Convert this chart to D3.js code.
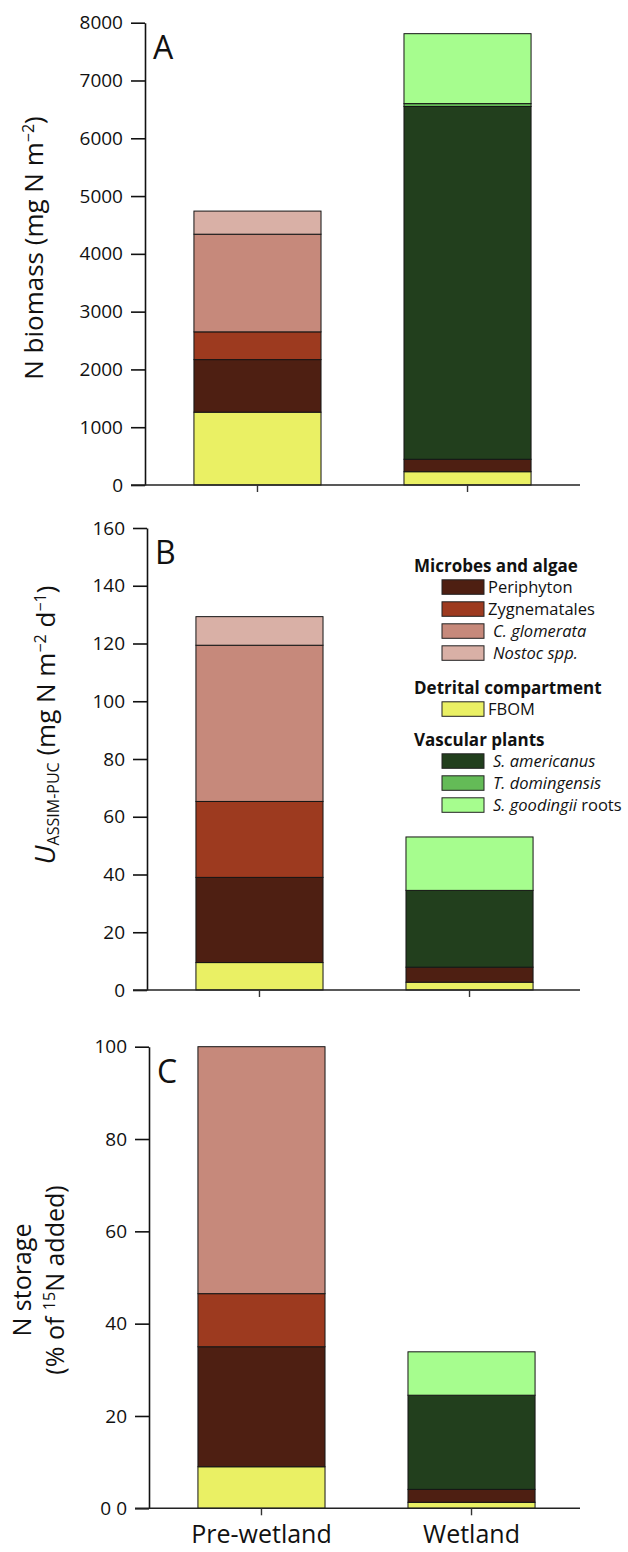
<!DOCTYPE html>
<html>
<head>
<meta charset="utf-8">
<script src="https://cdn.jsdelivr.net/npm/d3@7"></script>
<style>
  body { margin: 0; background: #fff; }
  svg { display: block; font-family: "Open Sans", sans-serif; }
</style>
</head>
<body>
<div id="chart"></div>
<script>
// Data
const categories = ['Pre-wetland', 'Wetland']
const seriesKeys = ['FBOM', 'Periphyton', 'Zygnematales', 'C. glomerata', 'Nostoc spp.',
  'S. americanus', 'T. domingensis', 'S. goodingii roots']
const seriesColors = ['#eaf064', '#4e1f12', '#9d3a1f', '#c6897b', '#d9b0a6',
  '#223f1d', '#64bb57', '#a6fd8e']
// Panel A: N biomass (mg N m-2)
const biomassPre = [1260, 910, 480, 1690, 400, 0, 0, 0]
const biomassWet = [230, 215, 0, 0, 0, 6105, 50, 1210]
const biomassTicks = [0, 1000, 2000, 3000, 4000, 5000, 6000, 7000, 8000]
// Panel B: U ASSIM-PUC (mg N m-2 d-1)
const uptakePre = [9.5, 29.5, 26.3, 54.1, 9.9, 0, 0, 0]
const uptakeWet = [2.7, 5.2, 0, 0, 0, 26.6, 0, 18.5]
const uptakeTicks = [0, 20, 40, 60, 80, 100, 120, 140, 160]
// Panel C: N storage (% of 15N added)
const storagePre = [9.0, 26.0, 11.5, 53.5, 0, 0, 0, 0]
const storageWet = [1.3, 2.8, 0, 0, 0, 20.4, 0, 9.4]
const storageTicks = [0, 20, 40, 60, 80, 100]
// Legend groups
const legendGroups = [
  { title: 'Microbes and algae', items: [1, 2, 3, 4] },
  { title: 'Detrital compartment', items: [0] },
  { title: 'Vascular plants', items: [5, 6, 7] }
]
const italicKeys = ['C. glomerata', 'Nostoc spp.', 'S. americanus', 'T. domingensis']

const W = 628, H = 1552
const svg = d3.select('#chart').append('svg').attr('width', W).attr('height', H)
const color = d3.scaleOrdinal().domain(seriesKeys).range(seriesColors)

const panels = [
  { letter: 'A', pre: biomassPre, wet: biomassWet, ticks: biomassTicks, top: 22.7, bottom: 485, axisX: 145, fmt: d => d },
  { letter: 'B', pre: uptakePre, wet: uptakeWet, ticks: uptakeTicks, top: 528, bottom: 990, axisX: 147, fmt: d => d },
  { letter: 'C', pre: storagePre, wet: storageWet, ticks: storageTicks, top: 1046.7, bottom: 1508.3, axisX: 149, fmt: d => d === 0 ? '0 0' : d }
]

panels.forEach((p, pi) => {
  const g = svg.append('g')
  const rows = [p.pre, p.wet].map((vals, i) => {
    const row = { cat: categories[i] }
    seriesKeys.forEach((k, j) => row[k] = vals[j])
    return row
  })
  const stacked = d3.stack().keys(seriesKeys)(rows)
  const maxTick = d3.max(p.ticks)
  const x = d3.scaleBand()
    .domain(categories)
    .range([p.axisX, p.axisX + 435])
    .paddingInner(0.395)
    .paddingOuter(0.233)
  const y = d3.scaleLinear().domain([0, maxTick]).range([p.bottom, p.top])

  // bars
  stacked.forEach(layer => {
    g.selectAll(null)
      .data(layer.filter(d => d[1] - d[0] > 0))
      .enter()
      .append('rect')
      .attr('x', d => x(d.data.cat))
      .attr('width', x.bandwidth())
      .attr('y', d => y(d[1]))
      .attr('height', d => y(d[0]) - y(d[1]))
      .attr('fill', color(layer.key))
      .attr('stroke', '#151515')
      .attr('stroke-width', 1)
  })

  // y axis
  const yAxis = g.append('g')
    .attr('transform', `translate(${p.axisX},0)`)
    .call(d3.axisLeft(y).tickValues(p.ticks).tickSize(14).tickPadding(8).tickSizeOuter(0).tickFormat(p.fmt))
  yAxis.select('.domain').attr('stroke', '#111').attr('stroke-width', 1.6)
  yAxis.selectAll('.tick line').attr('stroke', '#111').attr('stroke-width', 1.6)
  yAxis.selectAll('.tick text')
    .style('font-size', '19px')
    .style('font-family', '"Open Sans", sans-serif')
    .attr('fill', '#111')

  // x axis
  const xAxis = g.append('g')
    .attr('transform', `translate(0,${p.bottom})`)
    .call(d3.axisBottom(x).tickSize(7).tickSizeOuter(0).tickFormat(pi === 2 ? d => d : () => ''))
  xAxis.select('.domain').attr('d', `M${p.axisX - 14},0H580`).attr('stroke', '#222').attr('stroke-width', 1.6)
  xAxis.selectAll('.tick line').attr('stroke', '#333').attr('stroke-width', 1.4)
  xAxis.selectAll('.tick text')
    .style('font-size', '25px')
    .style('font-family', '"Open Sans", sans-serif')
    .attr('dy', '1.0em')
    .attr('fill', '#111')

  // panel letter
  g.append('text')
    .attr('x', p.axisX + 8)
    .attr('y', p.top + 36)
    .attr('font-size', 32)
    .attr('fill', '#111')
    .text(p.letter)
})

// Y-axis titles
const titleA = svg.append('text')
  .attr('transform', 'translate(43,248) rotate(-90)')
  .attr('text-anchor', 'middle').attr('font-size', 26).attr('fill', '#111')
titleA.append('tspan').text('N biomass (mg N m')
titleA.append('tspan').attr('font-size', 16).attr('baseline-shift', '55%').text('−2')
titleA.append('tspan').text(')')

const titleB = svg.append('text')
  .attr('transform', 'translate(55,725) rotate(-90)')
  .attr('text-anchor', 'middle').attr('font-size', 26).attr('fill', '#111')
titleB.append('tspan').attr('font-style', 'italic').attr('font-size', 28).text('U')
titleB.append('tspan').attr('font-size', 16).attr('baseline-shift', '-25%').text('ASSIM-PUC')
titleB.append('tspan').text(' (mg N m')
titleB.append('tspan').attr('font-size', 16).attr('baseline-shift', '55%').text('−2')
titleB.append('tspan').text(' d')
titleB.append('tspan').attr('font-size', 16).attr('baseline-shift', '55%').text('−1')
titleB.append('tspan').text(')')

const titleC = svg.append('g').attr('transform', 'translate(0,1280) rotate(-90)')
titleC.append('text').attr('x', 0).attr('y', 31)
  .attr('text-anchor', 'middle').attr('font-size', 25).attr('fill', '#111').text('N storage')
const titleC2 = titleC.append('text').attr('x', 0).attr('y', 64)
  .attr('text-anchor', 'middle').attr('font-size', 25).attr('fill', '#111')
titleC2.append('tspan').text('(% of ')
titleC2.append('tspan').attr('font-size', 16).attr('baseline-shift', '55%').text('15')
titleC2.append('tspan').text('N added)')

// Legend
const legend = svg.append('g').attr('fill', '#111')
let cy = 572
legendGroups.forEach((grp, gi) => {
  legend.append('text').attr('x', 414).attr('y', cy)
    .attr('font-weight', 'bold').attr('font-size', 17).text(grp.title)
  cy += 15
  grp.items.forEach(idx => {
    const key = seriesKeys[idx]
    legend.append('rect')
      .attr('x', 442).attr('y', cy - 7.2)
      .attr('width', 42).attr('height', 14.5)
      .attr('fill', color(key)).attr('stroke', '#222').attr('stroke-width', 1)
    const t = legend.append('text').attr('x', italicKeys.includes(key) || key.startsWith('S.') ? 493 : 488)
      .attr('y', cy).attr('dy', '0.36em').attr('font-size', 16.5)
    if (key === 'S. goodingii roots') {
      t.append('tspan').attr('font-style', 'italic').text('S. goodingii')
      t.append('tspan').text('  roots')
    } else {
      t.attr('font-style', italicKeys.includes(key) ? 'italic' : 'normal').text(key)
    }
    cy += 22
  })
  cy += gi === 0 ? 19 : 15
})
</script>
</body>
</html>
